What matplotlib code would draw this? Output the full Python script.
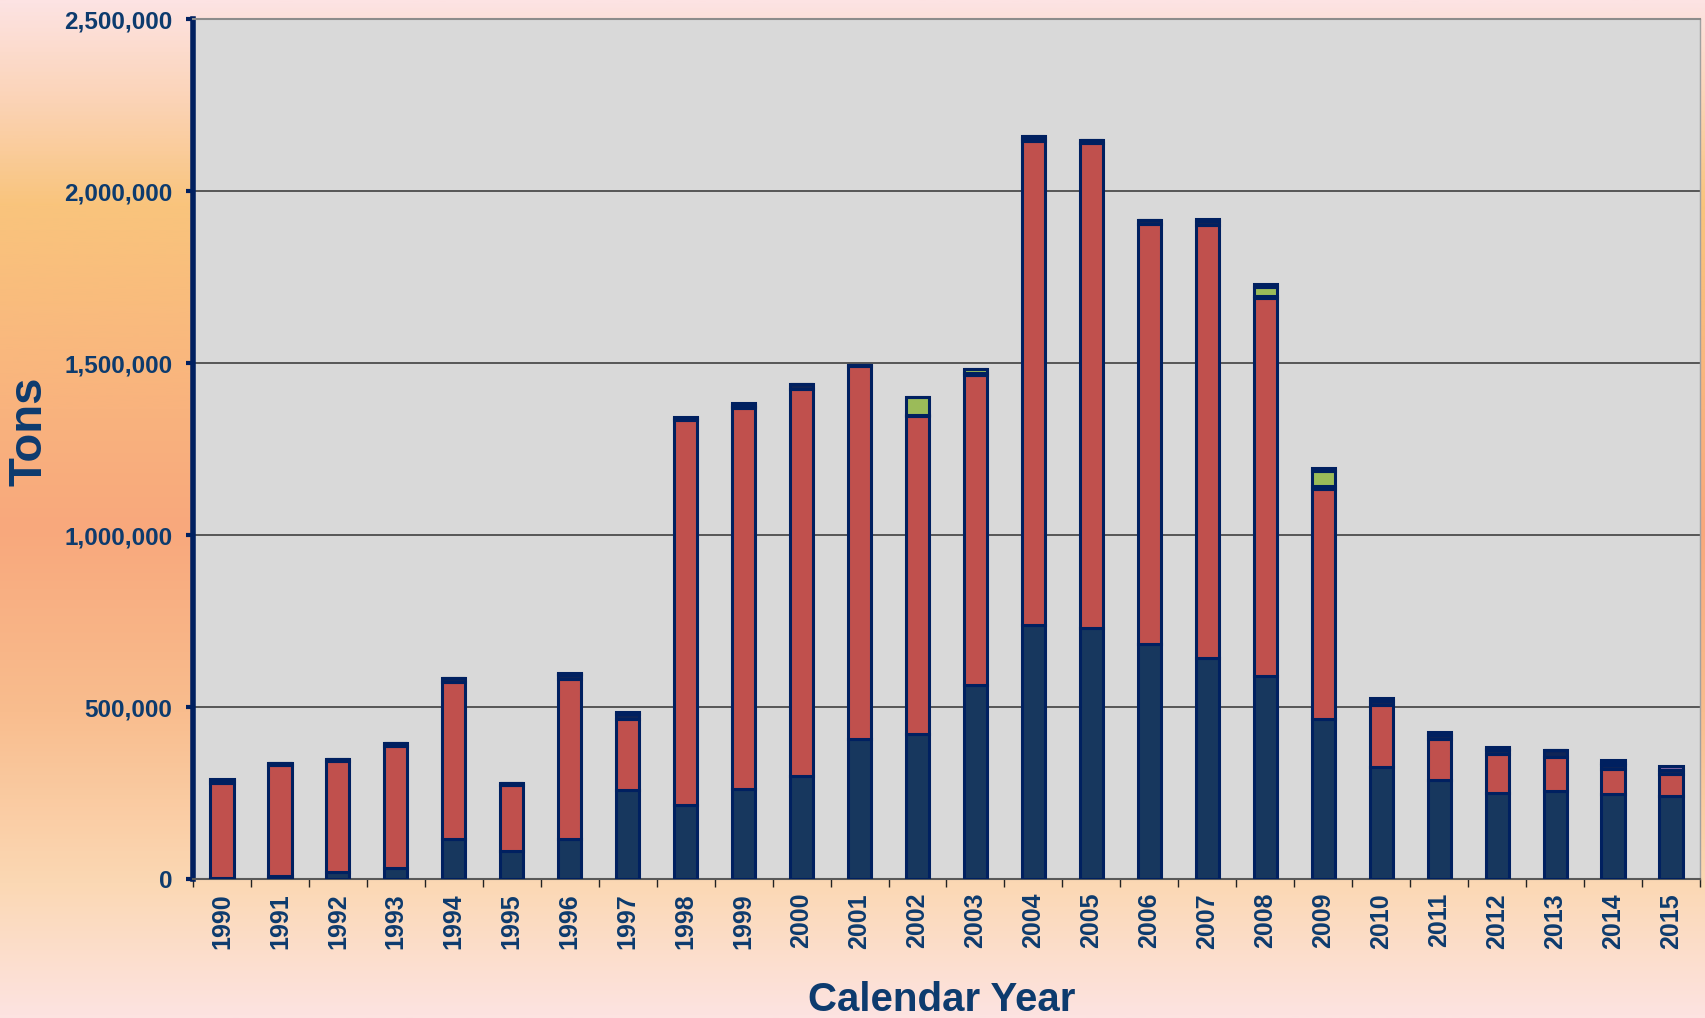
import numpy as np
import matplotlib
matplotlib.use('Agg')
import matplotlib.pyplot as plt
from matplotlib.colors import LinearSegmentedColormap
from matplotlib.ticker import FuncFormatter

plt.rcParams['font.family'] = ['Liberation Sans', 'DejaVu Sans']

# values in thousands of tons
years = [str(y) for y in range(1990, 2016)]
navy = [2, 9, 20, 32, 116, 82, 116, 259, 215, 261, 298, 408, 422, 565,
        738, 731, 684, 643, 589, 465, 325, 288, 250, 257, 248, 242]
red = [277, 322, 324, 355, 457, 191, 464, 206, 1118, 1108, 1126, 1082, 924, 900,
       1408, 1409, 1221, 1258, 1099, 670, 182, 120, 112, 99, 72, 63]
dark = [9, 7, 6, 8, 10, 7, 14, 15, 6, 4, 15, 5, 3, 7,
        9, 8, 12, 12, 8, 6, 10, 10, 12, 18, 12, 13]
green = [0, 0, 0, 0, 0, 0, 3, 0, 0, 5, 0, 0, 52, 10,
         5, 0, 0, 0, 25, 45, 0, 0, 3, 0, 5, 0]
purple = [2, 0, 0, 0, 0, 0, 3, 6, 5, 6, 0, 0, 0, 0,
          0, 0, 0, 7, 10, 8, 9, 8, 8, 0, 10, 10]

series = [
    (navy, '#17375E'),
    (red, '#C0504D'),
    (dark, '#0F2557'),
    (green, '#9BBB59'),
    (purple, '#8064A2'),
]

txt = '#0D3B6E'
edge = '#002060'

fig = plt.figure(figsize=(17.06, 10.18), dpi=100)

# background gradient
stops = [(0.0, '#FDE3E3'), (0.1, '#FBD3B5'), (0.2, '#F9C47C'), (0.4, '#F9B37E'),
         (0.52, '#F8A87C'), (0.7, '#F9BD8E'), (0.87, '#FBD8B4'), (1.0, '#FDE3E1')]
cmap = LinearSegmentedColormap.from_list('bg', stops)
bg = fig.add_axes([0, 0, 1, 1], zorder=-10)
bg.imshow(np.linspace(0, 1, 512).reshape(-1, 1), cmap=cmap, aspect='auto',
          extent=[0, 1, 0, 1])
bg.axis('off')

ax = fig.add_axes([193 / 1706, 1 - 879 / 1018, (1700 - 193) / 1706, (879 - 19) / 1018])
ax.set_facecolor('#D9D9D9')

x = np.arange(len(years))
bottom = np.zeros(len(years))
for vals, col in series:
    v = np.array(vals) * 1000.0
    ax.bar(x, v, width=0.4, bottom=bottom, color=col, edgecolor=edge, linewidth=2.2,
           zorder=3)
    bottom += v

ax.set_xlim(-0.5, len(years) - 0.5)
ax.set_ylim(0, 2500000)
ax.set_yticks(np.arange(0, 2500001, 500000))
ax.yaxis.set_major_formatter(FuncFormatter(lambda v, p: f'{int(v):,}'))
ax.grid(axis='y', color='#333333', linewidth=1.1)
ax.set_axisbelow(True)

ax.set_xticks(x)
ax.set_xticklabels(years, rotation=90)
ax.set_xticks(np.arange(-0.5, len(years), 1), minor=True)
ax.tick_params(axis='x', which='major', length=0, pad=10, labelsize=18,
               labelcolor=txt)
ax.tick_params(axis='x', which='minor', length=6, width=1, color='#222222',
               direction='out')
ax.tick_params(axis='y', which='major', length=5, width=3, color=edge, pad=10,
               labelsize=17.5, labelcolor=txt)
for lab in ax.get_xticklabels() + ax.get_yticklabels():
    lab.set_fontweight('bold')

ax.spines['left'].set_color(edge)
ax.spines['left'].set_linewidth(4)
ax.spines['bottom'].set_color('#595959')
ax.spines['bottom'].set_linewidth(1.5)
ax.spines['top'].set_color('#8C8C8C')
ax.spines['top'].set_linewidth(1.5)
ax.spines['right'].set_color('#A0A0A0')
ax.spines['right'].set_linewidth(1)

fig.text(30 / 1706, 1 - 431 / 1018, 'Tons', rotation=90, ha='center', va='center',
         fontsize=34, fontweight='bold', color=txt)
fig.text(942 / 1706, 1 - 1000 / 1018, 'Calendar Year', ha='center', va='center',
         fontsize=29, fontweight='bold', color=txt)

fig.savefig('out.png', dpi=100)
